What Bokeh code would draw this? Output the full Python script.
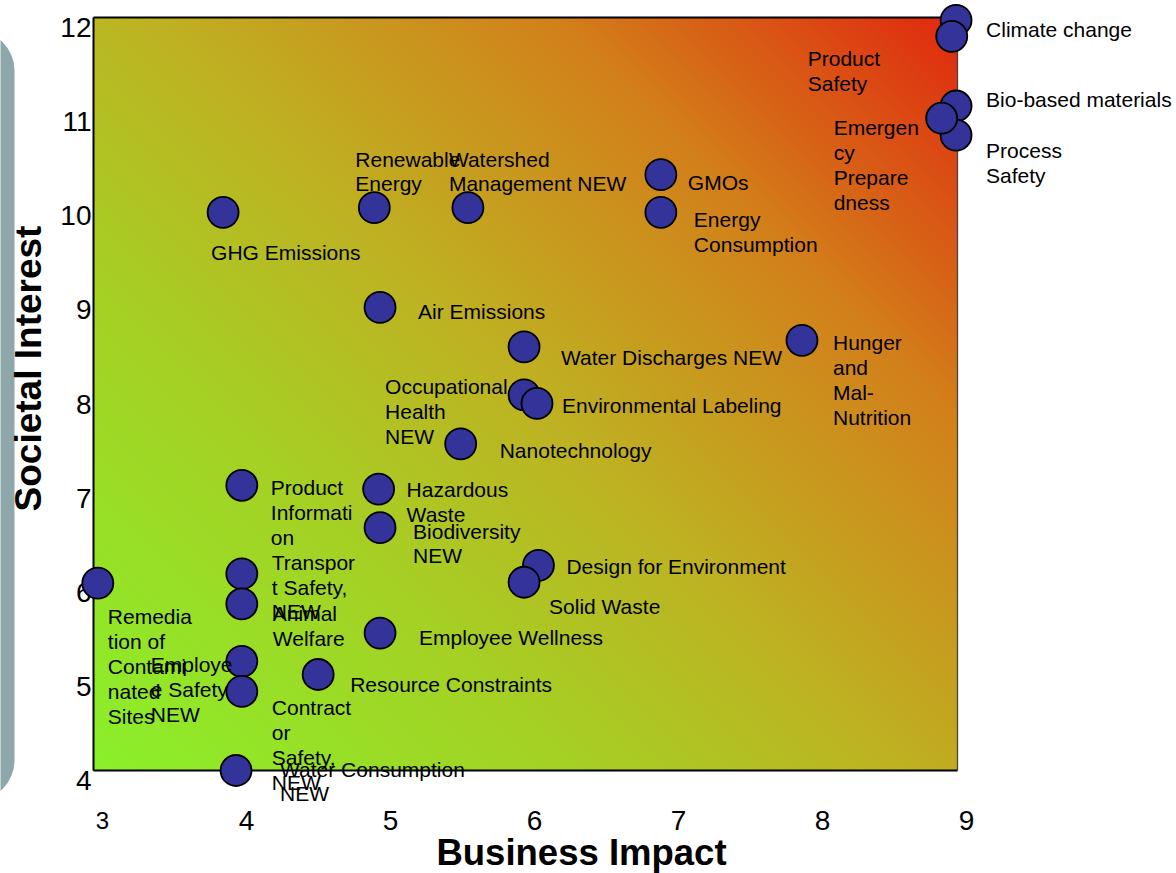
import numpy as np
from bokeh.plotting import figure
from bokeh.models import ColumnDataSource, LabelSet, Label, BoxAnnotation, Range1d
from bokeh.core.properties import value
from bokeh.embed import file_html
from bokeh.resources import INLINE

# ---- data -------------------------------------------------------------
topics = [
    "Climate change", "Product Safety", "Bio-based materials", "Process Safety",
    "Emergency Preparedness", "GMOs", "Energy Consumption", "Renewable Energy",
    "Watershed Management NEW", "GHG Emissions", "Air Emissions",
    "Water Discharges NEW", "Hunger and Mal-Nutrition", "Occupational Health NEW",
    "Environmental Labeling", "Nanotechnology", "Hazardous Waste",
    "Biodiversity NEW", "Design for Environment", "Solid Waste",
    "Product Information", "Transport Safety, NEW", "Animal Welfare",
    "Employee Wellness", "Remediation of Contaminated Sites",
    "Employee Safety NEW", "Contractor Safety, NEW", "Resource Constraints",
    "Water Consumption NEW",
]
business_impact = [
    8.99, 8.96, 8.99, 8.99, 8.89, 6.94, 6.94, 4.95, 5.60, 3.90,
    4.99, 5.99, 7.92, 5.99, 6.08, 5.55, 4.98, 4.99, 6.09, 5.99,
    4.03, 4.03, 4.03, 4.99, 3.03, 4.03, 4.03, 4.56, 3.99,
]
societal_interest = [
    11.97, 11.80, 11.06, 10.75, 10.93, 10.33, 9.93, 9.98, 9.98, 9.93,
    8.92, 8.50, 8.57, 7.99, 7.90, 7.47, 6.99, 6.58, 6.18, 6.00,
    7.03, 6.09, 5.77, 5.46, 5.99, 5.16, 4.84, 5.02, 4.00,
]
# wrapped label text as it is laid out next to each bubble
point_labels = [
    "Climate change", "Product\nSafety", "Bio-based materials", "Process\nSafety",
    "Emergen\ncy\nPrepare\ndness", "GMOs", "Energy\nConsumption", "Renewable\nEnergy",
    "Watershed\nManagement NEW", "GHG Emissions", "Air Emissions",
    "Water Discharges NEW", "Hunger\nand\nMal-\nNutrition", "Occupational\nHealth\nNEW",
    "Environmental Labeling", "Nanotechnology", "Hazardous\nWaste",
    "Biodiversity\nNEW", "Design for Environment", "Solid Waste",
    "Product\nInformati\non", "Transpor\nt Safety,\nNEW", "Animal\nWelfare",
    "Employee Wellness", "Remedia\ntion of\nContami\nnated\nSites",
    "Employe\ne Safety\nNEW", "Contract\nor\nSafety,\nNEW", "Resource Constraints",
    "Water Consumption\nNEW",
]
x_ticks = [3, 4, 5, 6, 7, 8, 9]
y_ticks = [4, 5, 6, 7, 8, 9, 10, 11, 12]
x_title = "Business Impact"
y_title = "Societal Interest"

# ---- label placement (pixels from bubble centre to first text line) ---
label_dx = [30, -144, 30, 30, -108, 27, 33, -19, -19, -12,
            38, 37, 31, -139, 25, 39, 28, 33, 28, 25,
            29, 30, 31, 39, 10, -91, 30, 32, 44]
label_dy = [10, 23, -6, 16, 10, 8, 8, -48, -48, 41,
            5, 11, 3, -8, 3, 7, 1, 4, 2, 25,
            3, -11, 10, 5, 34, 4, 17, 11, -1]

# ---- canvas geometry ---------------------------------------------------
W, H = 1176, 873
PX_LEFT, PX_BOTTOM = 93, 770      # canvas pixel of the plot box's lower-left corner
PX_RIGHT, PX_TOP = 957, 17
PX_PER_X = (PX_RIGHT - PX_LEFT) / (x_ticks[-1] - x_ticks[0])
PX_PER_Y = (PX_BOTTOM - PX_TOP) / (y_ticks[-1] - y_ticks[0])


def data_x(px):
    return x_ticks[0] + (px - PX_LEFT) / PX_PER_X


def data_y(py):
    return y_ticks[0] + (PX_BOTTOM - py) / PX_PER_Y


FONT = "Liberation Sans"

p = figure(
    width=W, height=H,
    x_range=Range1d(data_x(0), data_x(W)),
    y_range=Range1d(data_y(H), data_y(0)),
    x_axis_type=None, y_axis_type=None,
    tools="", toolbar_location=None, output_backend="svg",
    min_border=0, outline_line_color=None,
    background_fill_color="white", border_fill_color="white",
)

# slide side bar on the far left
p.add_layout(BoxAnnotation(
    left=data_x(-80), right=data_x(14), top=data_y(30), bottom=data_y(800),
    fill_color="#8DA7AA", fill_alpha=1.0, line_color=None,
    border_radius=40, level="underlay",
))

# diagonal green -> red gradient inside the plot box
nx, ny = 432, 376
wpx, hpx = PX_RIGHT - PX_LEFT, PX_BOTTOM - PX_TOP
U, V = np.meshgrid((np.arange(nx) + 0.5) / nx, (np.arange(ny) + 0.5) / ny)
t = (U * wpx + V * hpx) / (wpx + hpx)
stop_t = [0.0, 0.3, 0.5, 0.75, 1.0]
stop_rgb = [(138, 240, 42), (165, 208, 36), (190, 178, 34), (210, 128, 26), (225, 40, 15)]
img = np.empty((ny, nx), dtype=np.uint32)
view = img.view(dtype=np.uint8).reshape((ny, nx, 4))
for ch in range(3):
    view[..., ch] = np.interp(t, stop_t, [c[ch] for c in stop_rgb]).round().astype(np.uint8)
view[..., 3] = 255
gr = p.image_rgba(image=[img], x=x_ticks[0], y=y_ticks[0],
                  dw=x_ticks[-1] - x_ticks[0], dh=y_ticks[-1] - y_ticks[0])
gr.level = "image"

# plot box outline (right edge is a lighter hairline)
p.segment(x0=[x_ticks[0], x_ticks[0], x_ticks[0]], y0=[y_ticks[0], y_ticks[-1], y_ticks[0]],
          x1=[x_ticks[-1], x_ticks[-1], x_ticks[0]], y1=[y_ticks[0], y_ticks[-1], y_ticks[-1]],
          line_color="black", line_width=2)
p.segment(x0=[x_ticks[-1]], y0=[y_ticks[0]], x1=[x_ticks[-1]], y1=[y_ticks[-1]],
          line_color="#444444", line_width=1.3)

# tick labels
xt = ColumnDataSource(dict(
    x=x_ticks, y=[y_ticks[0]] * len(x_ticks), text=[str(v) for v in x_ticks],
    size=["24px" if v == x_ticks[0] else "28px" for v in x_ticks],
))
p.add_layout(LabelSet(
    source=xt, x="x", y="y", text="text", x_offset=9, y_offset=-50,
    text_align="center", text_baseline="middle", text_font_size="size",
    text_font=value(FONT), text_color="black", level="underlay",
))
yt = ColumnDataSource(dict(
    x=[x_ticks[0]] * len(y_ticks), y=y_ticks, text=[str(v) for v in y_ticks],
))
p.add_layout(LabelSet(
    source=yt, x="x", y="y", text="text", x_offset=-2, y_offset=-10,
    text_align="right", text_baseline="middle", text_font_size=value("28px"),
    text_font=value(FONT), text_color="black", level="underlay",
))

# bubbles
src = ColumnDataSource(dict(
    x=business_impact, y=societal_interest, name=topics, label=point_labels,
    dx=label_dx, dy=[-(d - 12) for d in label_dy],
))
p.scatter("x", "y", source=src, size=31, fill_color="#333399",
          line_color="black", line_width=1.8)

p.add_layout(LabelSet(
    source=src, x="x", y="y", text="label", x_offset="dx", y_offset="dy",
    text_align="left", text_baseline="top", text_font_size=value("21px"),
    text_font=value(FONT), text_color="black", text_line_height=1.08,
))

# axis titles
p.add_layout(Label(
    x=data_x(581), y=data_y(852), text=x_title, text_align="center",
    text_baseline="middle", text_font_size="36.5px", text_font_style="bold",
    text_font=FONT, text_color="black",
))
p.add_layout(Label(
    x=data_x(28), y=data_y(368), text=y_title, angle=np.pi / 2,
    text_align="center", text_baseline="middle", text_font_size="37px",
    text_font_style="bold", text_font=FONT, text_color="black",
))

open("out.html", "w").write(file_html(p, INLINE))
